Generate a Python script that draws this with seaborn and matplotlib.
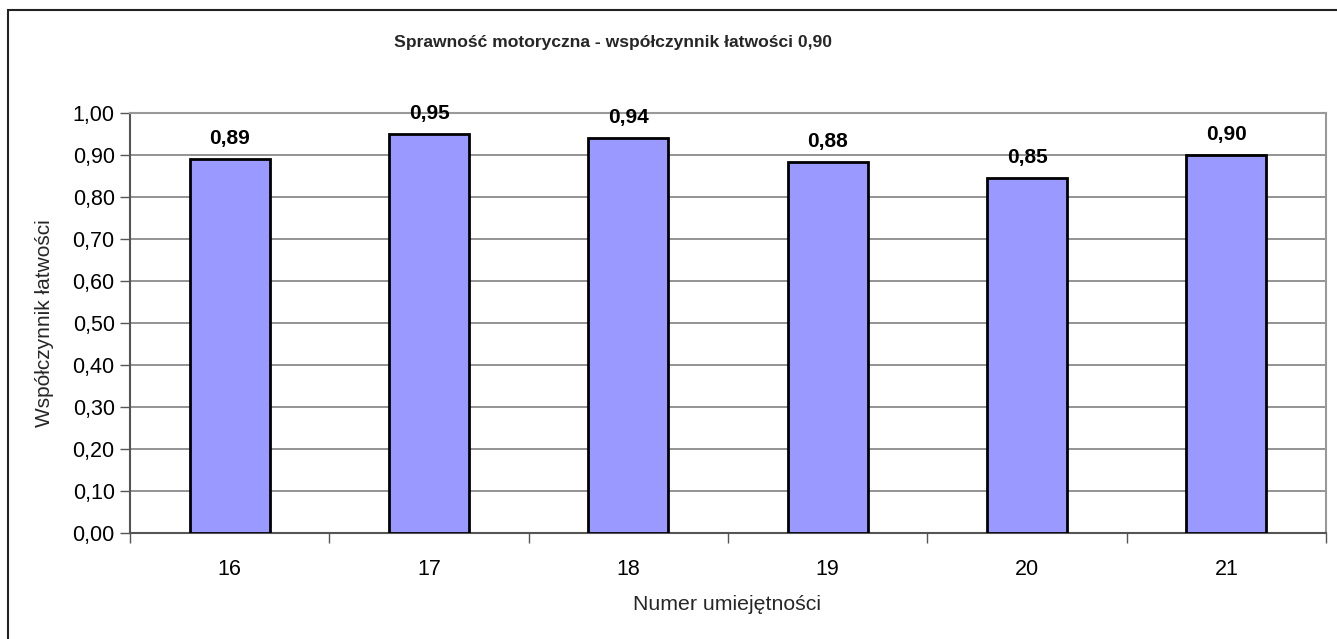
import matplotlib
matplotlib.use("Agg")
import matplotlib.pyplot as plt
from matplotlib.patches import Rectangle
from matplotlib.ticker import FixedLocator, FuncFormatter
import seaborn as sns
import pandas as pd

# data
skills = ["16", "17", "18", "19", "20", "21"]
ease = [0.89, 0.949, 0.94, 0.884, 0.846, 0.90]
ease_labels = ["0,89", "0,95", "0,94", "0,88", "0,85", "0,90"]
y_ticks = [0.0, 0.1, 0.2, 0.3, 0.4, 0.5, 0.6, 0.7, 0.8, 0.9, 1.0]

title = "Sprawność motoryczna - współczynnik łatwości 0,90"
x_title = "Numer umiejętności"
y_title = "Współczynnik łatwości"

sns.set_theme(style="white")
plt.rcParams["font.family"] = ["Liberation Sans", "DejaVu Sans"]

df = pd.DataFrame({"skill": skills, "ease": ease})

W, H = 1337, 639
fig = plt.figure(figsize=(W / 100, H / 100), dpi=100)
fig.patch.set_facecolor("white")

# axes placed to match the plot area in pixels
left, right, top, bottom = 130, 1326, 113, 533
ax = fig.add_axes([left / W, 1 - bottom / H, (right - left) / W, (bottom - top) / H])

sns.barplot(data=df, x="skill", y="ease", color="#9999FF", saturation=1,
            width=0.4, edgecolor="black", linewidth=2, ax=ax, zorder=3)

for cont in ax.containers:
    ax.bar_label(cont, labels=ease_labels, padding=8, fontsize=15,
                 fontweight="bold", color="black")

ax.set_ylim(0, 1.0)
ax.set_xlim(-0.5, len(skills) - 0.5)
ax.yaxis.set_major_locator(FixedLocator(y_ticks))
ax.yaxis.set_major_formatter(FuncFormatter(lambda v, p: f"{v:.2f}".replace(".", ",")))
ax.yaxis.grid(True, color="#808080", linewidth=1.2, zorder=0)
ax.set_axisbelow(True)

# category ticks sit between the bars, like the spreadsheet original
ax.set_xticks(range(len(skills)))
ax.set_xticklabels(skills)
ax.xaxis.set_minor_locator(FixedLocator([i - 0.5 for i in range(len(skills) + 1)]))
ax.tick_params(axis="x", which="major", length=0, pad=19, labelsize=15.5, colors="black")
ax.tick_params(axis="x", which="minor", length=7, width=1, color="#555555", direction="out")
ax.tick_params(axis="y", length=7, width=1, color="#555555", direction="out",
               pad=4, labelsize=15.5, labelcolor="black")
ax.xaxis.set_ticks_position("bottom")
ax.yaxis.set_ticks_position("left")

for side in ["top", "right"]:
    ax.spines[side].set_visible(True)
    ax.spines[side].set_color("#999999")
    ax.spines[side].set_linewidth(1.5)
for side in ["left", "bottom"]:
    ax.spines[side].set_color("#555555")
    ax.spines[side].set_linewidth(1.5)

ax.set_xlabel("")
ax.set_ylabel("")
fig.text(727 / W, 1 - 605 / H, x_title, ha="center", va="center", fontsize=15.3)
fig.text(45 / W, 1 - 323 / H, y_title, ha="center", va="center", rotation=90, fontsize=15)
fig.text(613 / W, 1 - 42 / H, title, ha="center", va="center", fontsize=12.6,
         fontweight="bold")

# outer chart frame (only the left and top edges are in view)
fig.add_artist(Rectangle((8 / W, -0.1), 1.2, 1 - 10 / H + 0.1, transform=fig.transFigure,
                         fill=False, edgecolor="#222222", linewidth=1.5))

fig.savefig("out.png", dpi=100)
